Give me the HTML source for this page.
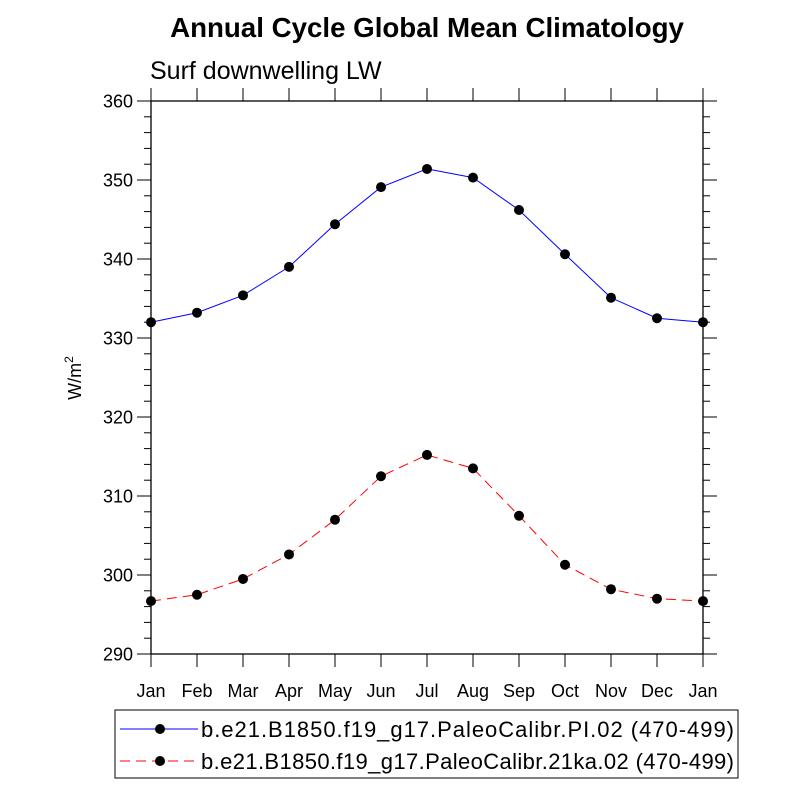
<!DOCTYPE html>
<html><head><meta charset="utf-8"><style>body{margin:0;background:#fff}svg{display:block;font-family:"Liberation Sans",sans-serif}</style></head>
<body>
<svg id="c" width="800" height="800">
<text x="427" y="37" font-size="27.7" font-weight="bold" text-anchor="middle">Annual Cycle Global Mean Climatology</text>
<text x="150" y="79" font-size="25">Surf downwelling LW</text>
<text transform="translate(81,378) rotate(-90)" font-size="18" text-anchor="middle">W/m<tspan dy="-8" font-size="12">2</tspan></text>
<g id="axes"></g>
<g id="series"></g>
<rect x="115" y="710" width="623" height="68" fill="none" stroke="#000" stroke-width="1"/>
<line x1="120" y1="729" x2="198" y2="729" stroke="#00f"/>
<circle cx="160" cy="729" r="5"/>
<text x="201" y="737" font-size="22" textLength="533">b.e21.B1850.f19_g17.PaleoCalibr.PI.02 (470-499)</text>
<line x1="120" y1="761" x2="198" y2="761" stroke="#f00" stroke-dasharray="10,6"/>
<circle cx="160" cy="761" r="5"/>
<text x="201" y="769" font-size="22" textLength="533">b.e21.B1850.f19_g17.PaleoCalibr.21ka.02 (470-499)</text>
</svg>
<script>
const months=["Jan","Feb","Mar","Apr","May","Jun","Jul","Aug","Sep","Oct","Nov","Dec","Jan"];
const yTicks=[290,300,310,320,330,340,350,360];
const piValues=[332.0,333.2,335.4,339.0,344.4,349.1,351.4,350.3,346.2,340.6,335.1,332.5,332.0];
const lgmValues=[296.7,297.5,299.5,302.6,307.0,312.5,315.2,313.5,307.5,301.3,298.2,297.0,296.7];
const L=151,R=703,T=101,B=654,ymin=290,ymax=360;
const xs=i=>L+(R-L)*i/(months.length-1);
const ys=v=>B-(B-T)*(v-ymin)/(ymax-ymin);
const NS="http://www.w3.org/2000/svg";
const ax=document.getElementById('axes'),se=document.getElementById('series');
function mk(p,tag,a){const e=document.createElementNS(NS,tag);for(const k in a)e.setAttribute(k,a[k]);p.appendChild(e);return e;}
let fr=mk(ax,'rect',{x:L,y:T,width:R-L,height:B-T,fill:'none',stroke:'#000','stroke-width':1.3});


months.forEach((m,i)=>{const x=xs(i);
 mk(ax,'line',{x1:x,y1:B,x2:x,y2:B+13,stroke:'#000'});
 mk(ax,'line',{x1:x,y1:T,x2:x,y2:T-13,stroke:'#000'});
 const t=mk(ax,'text',{x:x,y:B+43,'font-size':18,'text-anchor':'middle'});t.textContent=m;
 
 
});
for(let v=ymin;v<=ymax;v+=2){const y=ys(v),maj=(v%10===0);const len=maj?14:7;
 mk(ax,'line',{x1:L,y1:y,x2:L-len,y2:y,stroke:'#000'});
 mk(ax,'line',{x1:R,y1:y,x2:R+len,y2:y,stroke:'#000'});}
yTicks.forEach(v=>{const t=mk(ax,'text',{x:133,y:ys(v)+6.5,'font-size':18,'text-anchor':'end'});t.textContent=v;
 
 });
function draw(vals,col,dash,name){
 const pts=vals.map((v,i)=>xs(i)+','+ys(v)).join(' ');
 const pl=mk(se,'polyline',{points:pts,fill:'none',stroke:col,'stroke-width':1,'stroke-dasharray':dash});
 
 
 vals.forEach((v,i)=>{const c=mk(se,'circle',{cx:xs(i),cy:ys(v),r:5,fill:'#000'});
  
  });
}
draw(piValues,'#00f','none','pi-series');
draw(lgmValues,'#f00','10,6','lgm-series');
</script>
</body></html>
